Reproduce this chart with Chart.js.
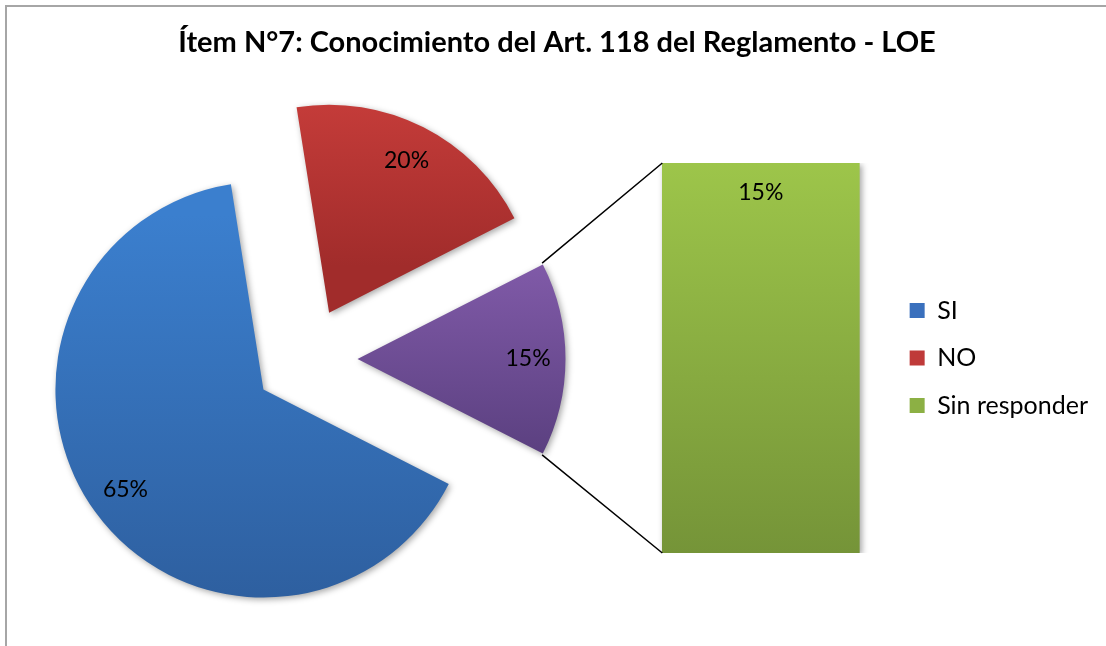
<!DOCTYPE html>
<html>
<head>
<meta charset="utf-8">
<script src="https://cdn.jsdelivr.net/npm/chart.js@4"></script>
<style>
  html, body { margin: 0; padding: 0; background: #fff; }
  #wrap { position: relative; width: 1106px; height: 646px; overflow: hidden; }
  #wrap canvas { position: absolute; left: 0; top: 0; }
  #frame { position: absolute; left: 5px; top: 5px; width: 1200px; height: 700px; border: 2px solid #a6a6a6; }
</style>
</head>
<body>
<div id="wrap">
  <div id="frame"></div>
  <canvas id="pie-chart" width="1106" height="646"></canvas>
  <canvas id="bar-chart" width="1106" height="646"></canvas>
</div>
<script>
const titleText = 'Ítem N°7: Conocimiento del Art. 118 del Reglamento - LOE';
const categories = ['SI', 'NO', 'Sin responder'];
const percentages = [65, 20, 15];
const barCategories = ['Sin responder'];
const barValues = [15];

// gradient colours, top -> bottom
const pieTop = ['#3b7fce', '#ce403d', '#805aa8'];
const pieBottom = ['#2d5d9c', '#a12c2b', '#5b4080'];
const barTop = '#9dc54a';
const barBottom = '#759438';
const legendColors = ['#3a70bd', '#bf3a39', '#8cb044'];

const ROTATION = 117;
const RADIUS = 208;
const EXPLODE = 208; // chart.js moves a slice by offset / 4

Chart.defaults.font.family = 'Lato, "Open Sans", sans-serif';
Chart.defaults.color = '#000';

function sum(arr) {
    return arr.reduce(function (a, b) { return a + b }, 0)
}

function sliceGradient(context) {
    const chart = context.chart
    const area = chart.chartArea
    const i = context.dataIndex
    if (!area) return pieTop[i]
    const total = sum(percentages)
    const a0 = (ROTATION - 90) * Math.PI / 180 + sum(percentages.slice(0, i)) / total * 2 * Math.PI
    const a1 = a0 + percentages[i] / total * 2 * Math.PI
    const mid = (a0 + a1) / 2
    const cy = (area.top + area.bottom) / 2 + Math.sin(mid) * EXPLODE / 4
    let yMin = cy, yMax = cy
    for (let k = 0; k <= 36; k++) {
        const y = cy + RADIUS * Math.sin(a0 + (a1 - a0) * k / 36)
        yMin = Math.min(yMin, y)
        yMax = Math.max(yMax, y)
    }
    const g = chart.ctx.createLinearGradient(0, yMin, 0, yMax)
    g.addColorStop(0, pieTop[i])
    g.addColorStop(1, pieBottom[i])
    return g
}

function barGradient(context) {
    const area = context.chart.chartArea
    if (!area) return barTop
    const g = context.chart.ctx.createLinearGradient(0, area.top, 0, area.bottom)
    g.addColorStop(0, barTop)
    g.addColorStop(1, barBottom)
    return g
}

// chart.js grows the radius of exploded slices and trims their angles,
// undo both so every slice keeps the same radius and its full share
const exactSlices = {
    id: 'exactSlices',
    afterDatasetsUpdate(chart) {
        chart.getDatasetMeta(0).data.forEach(function (arc) {
            const grow = (arc.options.offset / 4) * (1 - Math.sin(Math.min(Math.PI, arc.circumference)))
            arc.outerRadius = RADIUS - grow
            const trim = grow / Math.PI / RADIUS / 2
            arc.startAngle -= trim
            arc.endAngle += trim
        })
    }
}

const softShadow = {
    id: 'softShadow',
    beforeDatasetsDraw(chart) {
        const ctx = chart.ctx
        ctx.save()
        ctx.shadowColor = 'rgba(0, 0, 0, 0.35)'
        ctx.shadowBlur = 6
        ctx.shadowOffsetX = 2
        ctx.shadowOffsetY = 2
    },
    afterDatasetsDraw(chart) {
        chart.ctx.restore()
    }
}

const pieLabels = {
    id: 'pieLabels',
    afterDatasetsDraw(chart) {
        const ctx = chart.ctx
        ctx.save()
        ctx.font = '23px Lato'
        ctx.fillStyle = '#000'
        ctx.textAlign = 'center'
        ctx.textBaseline = 'middle'
        chart.getDatasetMeta(0).data.forEach(function (arc, i) {
            const mid = (arc.startAngle + arc.endAngle) / 2
            const d = arc.options.offset / 4 + RADIUS * 0.82
            ctx.fillText(percentages[i] + '%', arc.x + Math.cos(mid) * d, arc.y + Math.sin(mid) * d)
        })
        ctx.restore()
    }
}

const pieChart = new Chart(document.getElementById('pie-chart'), {
    type: 'pie',
    data: {
        labels: categories,
        datasets: [{
            data: percentages,
            backgroundColor: sliceGradient,
            borderWidth: 0,
            offset: [EXPLODE, EXPLODE, EXPLODE],
            rotation: ROTATION,
            radius: RADIUS
        }]
    },
    options: {
        responsive: false,
        animation: false,
        events: [],
        layout: { padding: { left: 0, right: 495, top: 72, bottom: 0 } },
        plugins: {
            legend: { display: false },
            title: { display: false },
            tooltip: { enabled: false }
        }
    },
    plugins: [softShadow, pieLabels, exactSlices]
});

const barLabel = {
    id: 'barLabel',
    afterDatasetsDraw(chart) {
        const ctx = chart.ctx
        const bar = chart.getDatasetMeta(0).data[0]
        ctx.save()
        ctx.font = '23px Lato'
        ctx.fillStyle = '#000'
        ctx.textAlign = 'center'
        ctx.textBaseline = 'middle'
        ctx.fillText(barValues[0] + '%', bar.x, bar.y + 30)
        ctx.restore()
    }
}

// lines from the "other" slice of the pie to the bar
const connectors = {
    id: 'connectors',
    afterDatasetsDraw(chart) {
        const arcs = pieChart.getDatasetMeta(0).data
        const arc = arcs[arcs.length - 1]
        const mid = (arc.startAngle + arc.endAngle) / 2
        const t = arc.options.offset / 4
        const r = arc.outerRadius + t * (1 - Math.sin(Math.min(Math.PI, arc.circumference)))
        const cx = arc.x + Math.cos(mid) * t
        const cy = arc.y + Math.sin(mid) * t
        const bar = chart.getDatasetMeta(0).data[0]
        const left = bar.x - bar.width / 2
        const ctx = chart.ctx
        ctx.save()
        ctx.strokeStyle = '#000'
        ctx.lineWidth = 1.5
        ctx.beginPath()
        ctx.moveTo(cx + r * Math.cos(arc.startAngle), cy + r * Math.sin(arc.startAngle))
        ctx.lineTo(left, bar.y)
        ctx.moveTo(cx + r * Math.cos(arc.endAngle), cy + r * Math.sin(arc.endAngle))
        ctx.lineTo(left, bar.base)
        ctx.stroke()
        ctx.restore()
    }
}

const barChart = new Chart(document.getElementById('bar-chart'), {
    type: 'bar',
    data: {
        labels: barCategories,
        datasets: [{
            data: barValues,
            backgroundColor: barGradient,
            borderWidth: 0,
            barThickness: 197
        }]
    },
    options: {
        responsive: false,
        animation: false,
        events: [],
        layout: { padding: { left: 16, right: 8, top: 0, bottom: 93 } },
        scales: {
            x: { display: false },
            y: {
                min: 0,
                max: sum(barValues),
                ticks: { display: false },
                grid: { display: false },
                border: { display: false },
                afterFit: function (axis) { axis.width = 618.5 }
            }
        },
        plugins: {
            title: {
                display: true,
                text: titleText,
                font: { size: 29, weight: 'bold' },
                padding: { top: 25.6, bottom: 102.6 }
            },
            legend: {
                position: 'right',
                fullSize: false,
                labels: {
                    boxWidth: 15,
                    boxHeight: 15,
                    padding: 22.5,
                    font: { size: 25 },
                    generateLabels: function () {
                        return categories.map(function (c, i) {
                            return {
                                text: c,
                                fillStyle: legendColors[i],
                                strokeStyle: legendColors[i],
                                lineWidth: 0,
                                hidden: false,
                                datasetIndex: 0,
                                index: i
                            }
                        })
                    }
                }
            },
            tooltip: { enabled: false }
        }
    },
    plugins: [softShadow, barLabel, connectors]
});
</script>
</body>
</html>
